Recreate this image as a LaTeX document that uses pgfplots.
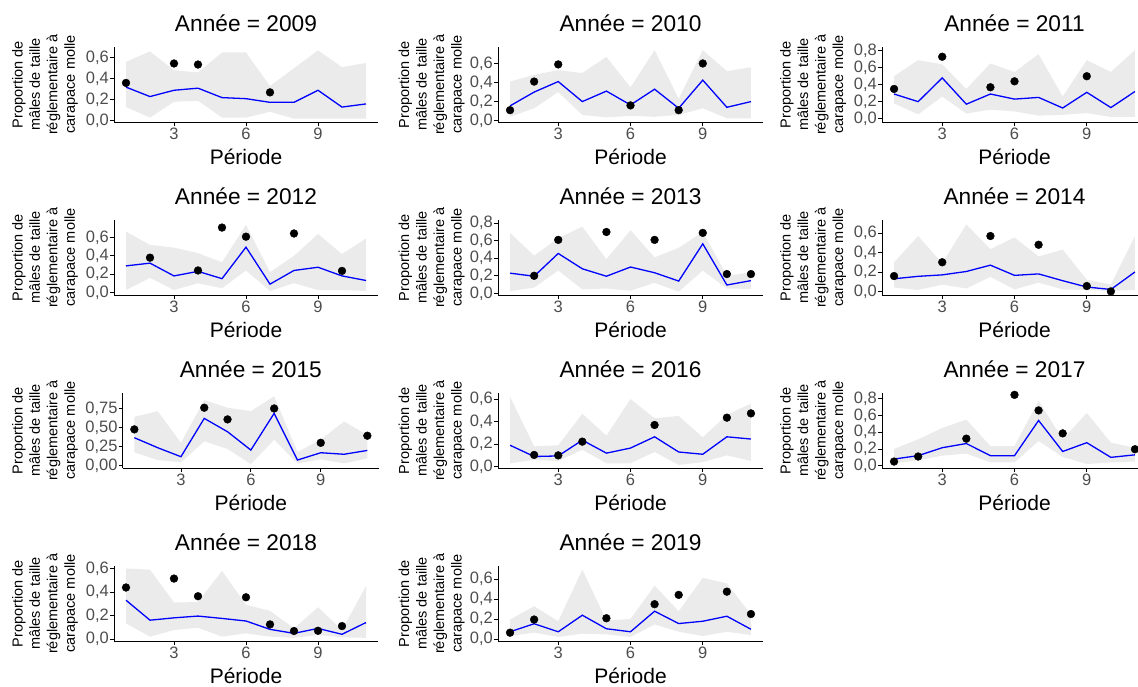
\documentclass[border=0pt]{standalone}
\usepackage{fontspec}
\setmainfont{Liberation Sans}
\usepackage{pgfplots}
\usepackage{pgfplotstable}
\pgfplotsset{compat=1.18}
\usepgfplotslibrary{fillbetween}
\definecolor{ribboncol}{HTML}{EBEBEB}
\definecolor{tickgray}{HTML}{4D4D4D}
\definecolor{fitblue}{HTML}{0000FF}

% x lo hi fit pt  (pt = observed proportion, nan = none)
\pgfplotstableread{
x lo hi fit pt
1 0.13 0.56 0.32 0.36
2 0.03 0.66 0.23 nan
3 0.18 0.48 0.29 0.545
4 0.19 0.46 0.31 0.535
5 0.03 0.65 0.22 nan
6 0.03 0.65 0.21 nan
7 0.085 0.33 0.175 0.27
8 0.02 0.50 0.175 nan
9 0.02 0.67 0.29 nan
10 0.02 0.51 0.13 nan
11 0.02 0.55 0.16 nan
}\tAnine
\pgfplotstableread{
x lo hi fit pt
1 0.04 0.41 0.155 0.11
2 0.13 0.48 0.30 0.41
3 0.30 0.53 0.41 0.59
4 0.06 0.50 0.20 nan
5 0.035 0.67 0.31 nan
6 0.05 0.35 0.165 0.16
7 0.04 0.74 0.33 nan
8 0.06 0.23 0.13 0.11
9 0.13 0.74 0.425 0.60
10 0.025 0.52 0.14 nan
11 0.025 0.56 0.20 nan
}\tAten
\pgfplotstableread{
x lo hi fit pt
1 0.18 0.50 0.29 0.35
2 0.05 0.69 0.20 nan
3 0.26 0.64 0.48 0.73
4 0.06 0.35 0.17 nan
5 0.105 0.65 0.29 0.37
6 0.085 0.55 0.23 0.44
7 0.035 0.76 0.25 nan
8 0.045 0.26 0.125 nan
9 0.065 0.69 0.31 0.50
10 0.02 0.55 0.13 nan
11 0.02 0.81 0.32 nan
}\tAeleven
\pgfplotstableread{
x lo hi fit pt
1 0.025 0.665 0.29 nan
2 0.16 0.52 0.32 0.38
3 0.025 0.49 0.18 nan
4 0.10 0.43 0.23 0.24
5 0.045 0.33 0.15 0.71
6 0.24 0.74 0.495 0.61
7 0.015 0.22 0.09 nan
8 0.10 0.40 0.24 0.645
9 0.025 0.64 0.275 nan
10 0.025 0.42 0.18 0.235
11 0.015 0.59 0.13 nan
}\tAtwelve
\pgfplotstableread{
x lo hi fit pt
1 0.025 0.69 0.23 nan
2 0.065 0.43 0.195 0.20
3 0.26 0.63 0.455 0.61
4 0.045 0.76 0.28 nan
5 0.055 0.39 0.195 0.70
6 0.03 0.72 0.30 nan
7 0.12 0.41 0.235 0.61
8 0.02 0.52 0.14 nan
9 0.26 0.70 0.565 0.69
10 0.055 0.20 0.095 0.22
11 0.05 0.24 0.145 0.22
}\tAthirteen
\pgfplotstableread{
x lo hi fit pt
1 0.04 0.30 0.13 0.158
2 0.015 0.57 0.155 nan
3 0.07 0.29 0.17 0.30
4 0.03 0.69 0.205 nan
5 0.15 0.435 0.27 0.57
6 0.02 0.555 0.165 nan
7 0.09 0.36 0.18 0.48
8 0.02 0.43 0.11 nan
9 0.015 0.12 0.045 0.055
10 0.005 0.07 0.02 0.0
11 0.015 0.57 0.20 nan
}\tAfourteen
\pgfplotstableread{
x lo hi fit pt
1 0.175 0.64 0.367 0.476
2 0.074 0.715 0.236 nan
3 0.044 0.30 0.118 nan
4 0.32 0.86 0.62 0.76
5 0.22 0.76 0.445 0.607
6 0.02 0.715 0.205 nan
7 0.34 0.91 0.686 0.75
8 0.03 0.18 0.074 nan
9 0.083 0.34 0.17 0.30
10 0.03 0.58 0.15 nan
11 0.096 0.40 0.20 0.393
}\tAfifteen
\pgfplotstableread{
x lo hi fit pt
1 0.03 0.62 0.19 nan
2 0.06 0.18 0.09 0.104
3 0.05 0.19 0.095 0.10
4 0.15 0.47 0.235 0.222
5 0.03 0.275 0.12 nan
6 0.03 0.60 0.165 nan
7 0.13 0.43 0.265 0.37
8 0.015 0.45 0.13 nan
9 0.04 0.26 0.11 nan
10 0.10 0.46 0.265 0.435
11 0.05 0.56 0.245 0.473
}\tAsixteen
\pgfplotstableread{
x lo hi fit pt
1 0.03 0.20 0.08 0.05
2 0.065 0.315 0.12 0.11
3 0.12 0.45 0.215 nan
4 0.145 0.55 0.265 0.323
5 0.04 0.235 0.12 nan
6 0.04 0.235 0.12 0.846
7 0.295 0.775 0.54 0.66
8 0.105 0.315 0.17 0.386
9 0.02 0.63 0.275 nan
10 0.04 0.275 0.10 nan
11 0.05 0.215 0.13 0.197
}\tAseventeen
\pgfplotstableread{
x lo hi fit pt
1 0.133 0.60 0.33 0.438
2 0.02 0.59 0.16 nan
3 0.076 0.31 0.18 0.514
4 0.096 0.315 0.195 0.364
5 0.02 0.58 0.175 nan
6 0.048 0.29 0.153 0.355
7 0.02 0.24 0.082 0.124
8 0.01 0.09 0.048 0.068
9 0.034 0.27 0.09 0.07
10 0.014 0.076 0.04 0.11
11 0.01 0.45 0.14 nan
}\tAeighteen
\pgfplotstableread{
x lo hi fit pt
1 0.033 0.197 0.075 0.066
2 0.066 0.33 0.155 0.197
3 0.023 0.18 0.075 nan
4 0.056 0.695 0.24 nan
5 0.049 0.187 0.105 0.21
6 0.023 0.203 0.075 nan
7 0.148 0.535 0.28 0.35
8 0.075 0.28 0.157 0.443
9 0.033 0.613 0.18 nan
10 0.075 0.557 0.23 0.475
11 0.043 0.246 0.10 0.252
}\tAnineteen

\pgfplotsset{
  panel/.style={
    anchor=south west, height=75pt, scale only axis,
    xmin=0.5, xmax=11.5,
    axis x line*=bottom, axis y line*=left,
    axis line style={-, black, line width=0.9pt},
    xtick={3,6,9},
    tick align=outside, major tick length=4pt,
    tick style={black, line width=0.9pt},
    /pgf/number format/assume math mode=true,
    ticklabel style={font=\fontsize{16.5}{16.5}\selectfont, text=tickgray},
    yticklabel style={inner sep=1pt,
      /pgf/number format/fixed, /pgf/number format/fixed zerofill,
      /pgf/number format/precision=1, /pgf/number format/use comma},
    xticklabel style={inner sep=2pt},
    ytick={0,0.2,0.4,0.6},
  },
}

\newcommand{\panel}[6]{% #1 table, #2 left, #3 width, #4 bottom, #5 ymin, #6 ymax + extra
\begin{axis}[panel, at={(#2pt,#4pt)}, width=#3pt, #5, #6]
\addplot[name path=up, draw=none, forget plot] table[x=x,y=hi]{#1};
\addplot[name path=dn, draw=none, forget plot] table[x=x,y=lo]{#1};
\addplot[fill=ribboncol, draw=none] fill between[of=up and dn];
\addplot[fitblue, line width=1.3pt, mark=none] table[x=x,y=fit]{#1};
\addplot[only marks, mark=*, mark size=3.9pt, black] table[x=x,y=pt]{#1};
\end{axis}}

\newcommand{\plabels}[4]{% #1 center x, #2 bottom, #3 ylabel x, #4 year
\node[anchor=base, font=\fontsize{22.7}{24}\selectfont] at ({#1pt},{#2pt+90pt}) {Année = #4};
\node[anchor=base, inner sep=0pt, font=\fontsize{21}{24}\selectfont] at ({#1pt},{#2pt-42.5pt}) {Période};
\node[rotate=90, align=center, font=\fontsize{14.5}{17.5}\selectfont] at ({#3pt},{#2pt+37.5pt})
  {Proportion de\\mâles de taille\\réglementaire à\\carapace molle};
}

\begin{document}
\begin{tikzpicture}
% row 1
\panel{\tAnine}{114}{264}{565}{ymin=-0.012}{ymax=0.702}
\plabels{246}{565}{45}{2009}
\panel{\tAten}{498}{265}{565}{ymin=-0.014}{ymax=0.773}
\plabels{630.5}{565}{431.5}{2010}
\panel{\tAeleven}{882}{265}{565}{ymin=-0.04}{ymax=0.845, ytick={0,0.2,0.4,0.6,0.8}}
\plabels{1014.5}{565}{813}{2011}
% row 2
\panel{\tAtwelve}{114}{264}{392}{ymin=-0.029}{ymax=0.793}
\plabels{246}{392}{45}{2012}
\panel{\tAthirteen}{498}{265}{392}{ymin=-0.019}{ymax=0.837, ytick={0,0.2,0.4,0.6,0.8}}
\plabels{630.5}{392}{431.5}{2013}
\panel{\tAfourteen}{882}{265}{392}{ymin=-0.037}{ymax=0.735}
\plabels{1014.5}{392}{813}{2014}
% row 3
\panel{\tAfifteen}{122.7}{256.3}{219}{ymin=-0.03}{ymax=0.953, ytick={0,0.25,0.5,0.75}, yticklabel style={/pgf/number format/precision=2}}
\plabels{250.8}{219}{45}{2015}
\panel{\tAsixteen}{498}{265}{219}{ymin=-0.012}{ymax=0.654}
\plabels{630.5}{219}{431.5}{2016}
\panel{\tAseventeen}{882}{265}{219}{ymin=-0.027}{ymax=0.868, ytick={0,0.2,0.4,0.6,0.8}}
\plabels{1014.5}{219}{813}{2017}
% row 4
\panel{\tAeighteen}{114}{264}{46}{ymin=-0.017}{ymax=0.621}
\plabels{246}{46}{45}{2018}
\panel{\tAnineteen}{498}{265}{46}{ymin=-0.017}{ymax=0.731}
\plabels{630.5}{46}{431.5}{2019}
\pgfresetboundingbox
\path[use as bounding box] (0pt,0pt) rectangle (1138pt,687pt);
\end{tikzpicture}
\end{document}
